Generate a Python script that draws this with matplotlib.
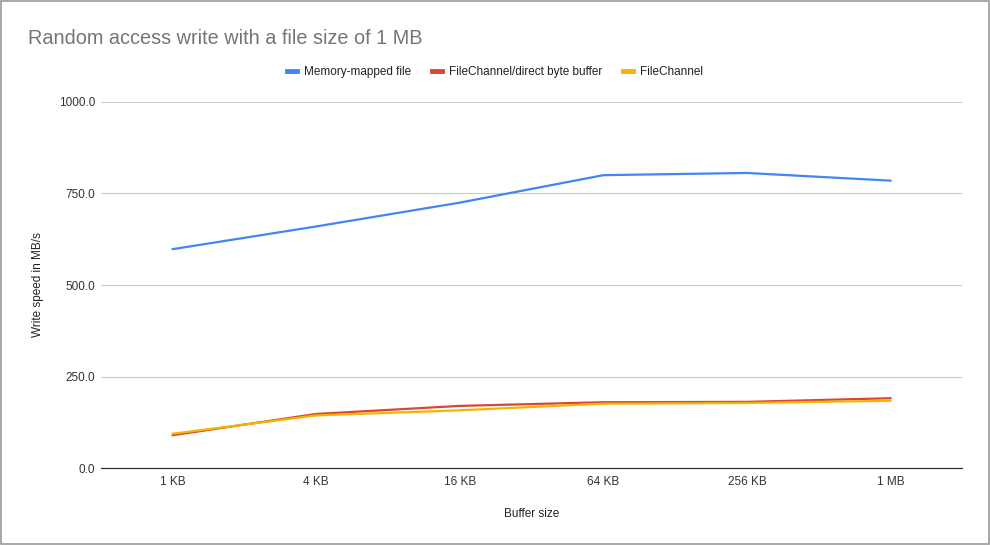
import matplotlib.pyplot as plt
from matplotlib.patches import Rectangle

buffer_sizes = ['1 KB', '4 KB', '16 KB', '64 KB', '256 KB', '1 MB']
mmap_speed = [598, 660, 725, 800, 806, 785]
direct_speed = [90, 148, 170, 180, 181, 191]
channel_speed = [94, 144, 158, 176, 178, 184]
y_ticks = [0, 250, 500, 750, 1000]

plt.rcParams['font.family'] = ['Liberation Sans', 'DejaVu Sans']

fig = plt.figure(figsize=(9.9, 5.45), dpi=100)
ax = fig.add_axes([0.102, 0.141, 0.870, 0.672])

x = range(len(buffer_sizes))
ax.plot(x, mmap_speed, color='#4285F4', linewidth=1.6, label='Memory-mapped file')
ax.plot(x, direct_speed, color='#DB4437', linewidth=1.6, label='FileChannel/direct byte buffer')
ax.plot(x, channel_speed, color='#F4B400', linewidth=1.6, label='FileChannel')

ax.set_xlim(-0.5, len(buffer_sizes) - 0.5)
ax.set_ylim(0, 1000)
ax.set_xticks(list(x))
ax.set_xticklabels(buffer_sizes)
ax.set_yticks(y_ticks)
ax.set_yticklabels(['%.1f' % v for v in y_ticks])
ax.tick_params(length=0, labelsize=8.5, colors='#333333', pad=4)
ax.tick_params(axis='x', pad=6)
ax.grid(axis='y', color='#cccccc', linewidth=0.8)
ax.set_axisbelow(True)
for side in ['top', 'right', 'left']:
    ax.spines[side].set_visible(False)
ax.spines['bottom'].set_color('#333333')
ax.spines['bottom'].set_linewidth(0.9)

ax.set_xlabel('Buffer size', fontsize=8.5, color='#222222', labelpad=14)
ax.set_ylabel('Write speed in MB/s', fontsize=8.5, color='#222222', labelpad=11)

fig.text(28 / 990, 1 - 38 / 545, 'Random access write with a file size of 1 MB',
         fontsize=14.3, color='#757575', va='center', ha='left')

leg = fig.legend(loc='center', bbox_to_anchor=(495 / 990, 1 - 72 / 545), ncol=3,
                 frameon=False, fontsize=8.5, handlelength=0.8, handletextpad=0.6,
                 columnspacing=1.8)
for line in leg.get_lines():
    line.set_linewidth(3.5)
for t in leg.get_texts():
    t.set_color('#222222')

fig.patches.append(Rectangle((0.001, 0.002), 0.998, 0.996, transform=fig.transFigure,
                             fill=False, edgecolor='#999999', linewidth=1.2))

fig.savefig('out.png', dpi=100)
